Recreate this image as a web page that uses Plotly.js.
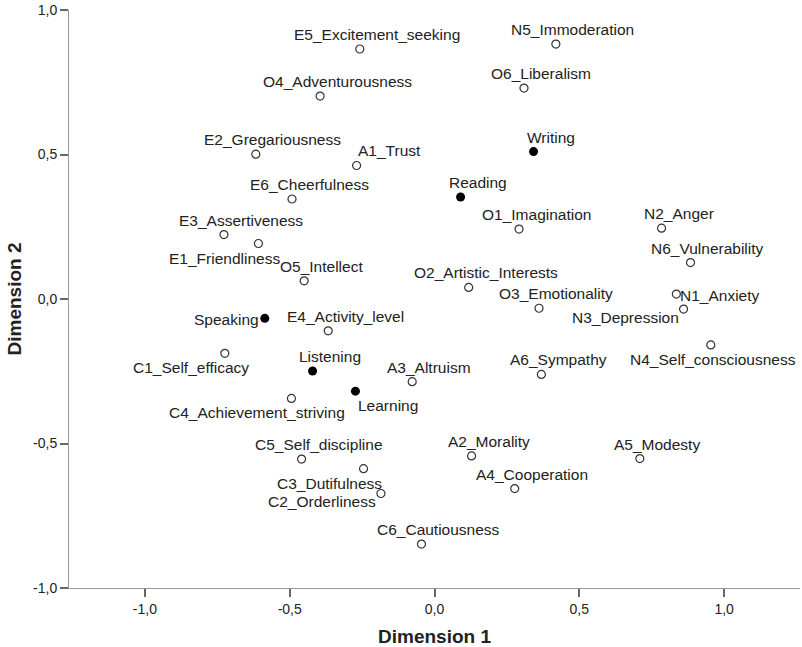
<!DOCTYPE html>
<html>
<head>
<meta charset="utf-8">
<script src="https://cdn.plot.ly/plotly-3.0.1.min.js"></script>
<style>html,body{margin:0;padding:0;background:#fff;}#chart{width:802px;height:647px;}</style>
</head>
<body>
<div id="chart"></div>
<script>
// Personality facets (open circles)
const facetNames = [
  'N1_Anxiety','N2_Anger','N3_Depression','N4_Self_consciousness','N5_Immoderation','N6_Vulnerability',
  'E1_Friendliness','E2_Gregariousness','E3_Assertiveness','E4_Activity_level','E5_Excitement_seeking','E6_Cheerfulness',
  'O1_Imagination','O2_Artistic_Interests','O3_Emotionality','O4_Adventurousness','O5_Intellect','O6_Liberalism',
  'A1_Trust','A2_Morality','A3_Altruism','A4_Cooperation','A5_Modesty','A6_Sympathy',
  'C1_Self_efficacy','C2_Orderliness','C3_Dutifulness','C4_Achievement_striving','C5_Self_discipline','C6_Cautiousness'
];
const facetDim1 = [
  0.835, 0.784, 0.860, 0.954, 0.419, 0.884,
  -0.608, -0.617, -0.727, -0.367, -0.258, -0.492,
  0.292, 0.118, 0.361, -0.395, -0.450, 0.309,
  -0.269, 0.128, -0.077, 0.277, 0.709, 0.369,
  -0.724, -0.185, -0.245, -0.494, -0.459, -0.045
];
const facetDim2 = [
  0.017, 0.245, -0.035, -0.159, 0.882, 0.126,
  0.192, 0.501, 0.223, -0.110, 0.865, 0.346,
  0.242, 0.040, -0.032, 0.702, 0.063, 0.730,
  0.462, -0.543, -0.286, -0.656, -0.552, -0.261,
  -0.188, -0.673, -0.587, -0.344, -0.554, -0.848
];
// Language skills (filled circles)
const skillNames = ['Reading','Writing','Speaking','Listening','Learning'];
const skillDim1 = [0.090, 0.342, -0.586, -0.421, -0.273];
const skillDim2 = [0.353, 0.510, -0.067, -0.249, -0.319];

// Axis ticks
const tickVals = [-1, -0.5, 0, 0.5, 1];
const tickText = ['-1,0', '-0,5', '0,0', '0,5', '1,0'];

// Label placement codes (style only)
const facetLabelPlace = [
  'R','T','LD','B','T','T',
  'BL','T','T','T','T','T',
  'T','T','T','T','T','T',
  'TR','T','T','T','T','T',
  'BL','LD','BL','BL','T','T'
];
const skillLabelPlace = ['T','T','L','T','BR'];

const placeStyles = {
  T:  {xanchor:'center', yanchor:'bottom', xshift:17, yshift:4},
  TR: {xanchor:'left',   yanchor:'bottom', xshift:-1, yshift:4},
  B:  {xanchor:'center', yanchor:'top',    xshift:2,  yshift:-4},
  BL: {xanchor:'center', yanchor:'top',    xshift:-34, yshift:-4},
  BR: {xanchor:'center', yanchor:'top',    xshift:33, yshift:-4},
  L:  {xanchor:'right',  yanchor:'middle', xshift:-4, yshift:-1},
  LD: {xanchor:'right',  yanchor:'middle', xshift:-3, yshift:-8},
  R:  {xanchor:'left',   yanchor:'middle', xshift:2,  yshift:-1}
};

const FONT = 'Arial, "Liberation Sans", sans-serif';

function makeLabels(names, xs, ys, places) {
  return names.map((n, i) => Object.assign({
    x: xs[i], y: ys[i], xref: 'x', yref: 'y', text: n, showarrow: false,
    font: {family: FONT, size: 15.5, color: '#222'}
  }, placeStyles[places[i]]));
}

const traces = [
  {
    type: 'scatter', mode: 'markers', x: facetDim1, y: facetDim2, text: facetNames,
    marker: {symbol: 'circle-open', size: 8, color: '#333', line: {width: 1.2}},
    hoverinfo: 'text', showlegend: false
  },
  {
    type: 'scatter', mode: 'markers', x: skillDim1, y: skillDim2, text: skillNames,
    marker: {symbol: 'circle', size: 9, color: '#000'},
    hoverinfo: 'text', showlegend: false
  }
];

const layout = {
  width: 802, height: 647,
  margin: {l: 69, r: 2, t: 10, b: 59},
  paper_bgcolor: '#fff', plot_bgcolor: '#fff',
  font: {family: FONT, color: '#222'},
  showlegend: false,
  xaxis: {
    range: [-1.262, 1.262], showgrid: false, zeroline: false,
    showline: true, linecolor: '#999', linewidth: 1,
    ticks: 'outside', ticklen: 8, tickwidth: 2, tickcolor: '#666',
    tickvals: tickVals, ticktext: tickText,
    tickfont: {family: FONT, size: 14, color: '#222'},
    title: {text: '<b>Dimension 1</b>', font: {family: FONT, size: 19, color: '#222'}}
  },
  yaxis: {
    range: [-1, 1], showgrid: false, zeroline: false,
    showline: true, linecolor: '#999', linewidth: 1,
    ticks: 'outside', ticklen: 8, tickwidth: 2, tickcolor: '#666',
    tickvals: tickVals, ticktext: tickText,
    tickfont: {family: FONT, size: 14, color: '#222'},
    title: {text: '<b>Dimension 2</b>', font: {family: FONT, size: 19, color: '#222'}}
  },
  annotations: makeLabels(facetNames, facetDim1, facetDim2, facetLabelPlace)
    .concat(makeLabels(skillNames, skillDim1, skillDim2, skillLabelPlace))
};

Plotly.newPlot('chart', traces, layout, {displayModeBar: false, staticPlot: true});
</script>
</body>
</html>
